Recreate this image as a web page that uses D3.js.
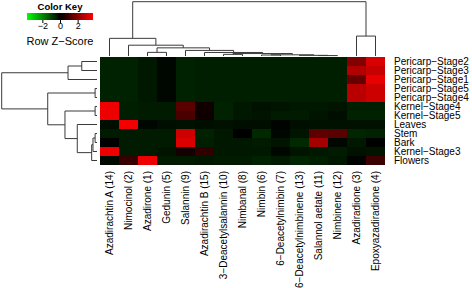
<!DOCTYPE html>
<html>
<head>
<meta charset="utf-8">
<script src="https://cdn.jsdelivr.net/npm/d3@7"></script>
<style>
  body { margin: 0; background: #fff; }
  text { font-family: "Liberation Sans", Arial, sans-serif; }
</style>
</head>
<body>
<script>
const rowLabels = ["Pericarp\u2212Stage2", "Pericarp\u2212Stage3", "Pericarp\u2212Stage1", "Pericarp\u2212Stage5",
  "Pericarp\u2212Stage4", "Kernel\u2212Stage4", "Kernel\u2212Stage5", "Leaves", "Stem", "Bark",
  "Kernel\u2212Stage3", "Flowers"];

const colLabels = ["Azadirachtin A (14)", "Nimocinol (2)", "Azadirone (1)", "Gedunin (5)", "Salannin (9)",
  "Azadirachtin B (15)", "3\u2212Deacetylsalannin (10)", "Nimbanal (8)", "Nimbin (6)", "6\u2212Deacetylnimbin (7)",
  "6\u2212Deacetylnimbinene (13)", "Salannol aetate (11)", "Nimbinene (12)", "Azadiradione (3)",
  "Epoxyazadiradione (4)"];

// row z-scores, one array per row (same order as rowLabels)
const zScores = [
  [-0.5, -0.5, -0.35, -0.1, -0.5, -0.45, -0.45, -0.45, -0.45, -0.45, -0.45, -0.45, -0.45, 1.9, 3.2],
  [-0.5, -0.5, -0.35, -0.1, -0.5, -0.45, -0.45, -0.45, -0.45, -0.45, -0.45, -0.45, -0.45, 2.6, 2.9],
  [-0.5, -0.5, -0.35, -0.1, -0.5, -0.45, -0.45, -0.45, -0.45, -0.45, -0.45, -0.45, -0.45, 1.5, 3.4],
  [-0.5, -0.5, -0.35, -0.1, -0.5, -0.45, -0.45, -0.45, -0.45, -0.45, -0.45, -0.45, -0.45, 2.7, 3.0],
  [-0.5, -0.5, -0.35, -0.1, -0.5, -0.45, -0.45, -0.45, -0.45, -0.45, -0.45, -0.45, -0.45, 2.7, 3.0],
  [3.5, -0.45, -0.4, -0.4, 1.3, 0.25, -0.5, -0.35, -0.25, -0.3, -0.35, -0.35, -0.3, -0.45, -0.45],
  [3.5, -0.45, -0.4, -0.4, 1.1, 0.2, -0.5, -0.35, -0.3, -0.4, -0.4, -0.3, -0.2, -0.5, -0.5],
  [-0.2, 3.6, -0.1, -0.2, -0.25, -0.2, -0.25, -0.2, -0.2, -0.05, -0.2, -0.25, -0.25, -0.25, -0.25],
  [-0.4, -0.4, -0.4, -0.4, 3.0, -0.5, -0.35, 0.0, -0.6, -0.1, -0.3, 1.4, 1.3, -0.55, -0.5],
  [0.0, -0.4, -0.4, -0.4, 3.2, -0.45, -0.35, -0.35, -0.4, -0.3, -0.6, 2.4, -0.1, -0.35, 0.0],
  [3.5, -0.4, -0.4, -0.3, 0.3, 0.7, -0.35, -0.35, -0.35, -0.1, -0.3, -0.35, -0.4, -0.25, -0.3],
  [-0.15, 0.8, 3.5, -0.4, -0.4, -0.35, -0.4, -0.4, -0.5, -0.4, -0.55, -0.45, -0.35, -0.05, 0.9]
];

// dendrograms: leaves are row / column indices, h = merge height
const rowTree = { h: 10, c: [
  { h: 3.04, c: [{ h: 1.6, c: [0, 1] }, 2] },
  { h: 5.17, c: [
    { h: 0.2, c: [3, 4] },
    { h: 3.36, c: [
      { h: 0.2, c: [5, 6] },
      { h: 2.07, c: [7, { h: 0.56, c: [{ h: 0.42, c: [{ h: 0.2, c: [8, 9] }, 10] }, 11] }] }
    ] }
  ] }
] };

const colTree = { h: 10, c: [
  { h: 3.25, c: [0, { h: 1.99, c: [1, { h: 1.5, c: [
    { h: 0.67, c: [2, 3] },
    { h: 1.03, c: [4, { h: 0.65, c: [5, { h: 0.45, c: [
      { h: 0.3, c: [6, 7] },
      { h: 0.22, c: [{ h: 0.18, c: [8, 9] }, { h: 0.12, c: [10, { h: 0.08, c: [11, 12] }] }] }
    ] }] }] }
  ] }] }] },
  { h: 3.67, c: [13, 14] }
] };

const keyTicks = [-2, 0, 2];
const zMax = 3.74;

const W = 472, H = 288;
const hm = { left: 100, top: 57, right: 385, bottom: 165 };

const svg = d3.select("body").append("svg")
  .attr("width", W).attr("height", H);

const x = d3.scaleBand().domain(d3.range(colLabels.length)).range([hm.left, hm.right]);
const y = d3.scaleBand().domain(d3.range(rowLabels.length)).range([hm.top, hm.bottom]);
const color = d3.scaleLinear().domain([-zMax, 0, zMax]).range(["#00ff00", "#000000", "#ff0000"]);

// heatmap cells
const cells = [];
zScores.forEach((row, i) => row.forEach((v, j) => cells.push({ i, j, v })));
svg.append("g").selectAll("rect")
  .data(cells)
  .enter().append("rect")
  .attr("x", d => x(d.j))
  .attr("y", d => y(d.i))
  .attr("width", x.bandwidth())
  .attr("height", y.bandwidth())
  .attr("fill", d => color(d.v))
  .attr("shape-rendering", "crispEdges");

// row labels
svg.append("g").selectAll("text")
  .data(rowLabels)
  .enter().append("text")
  .attr("x", hm.right + 9)
  .attr("y", (d, i) => y(i) + y.bandwidth() / 2)
  .attr("dy", "0.36em")
  .style("font-size", "10px")
  .text(d => d);

// column labels
svg.append("g").selectAll("text")
  .data(colLabels)
  .enter().append("text")
  .attr("transform", (d, i) => `translate(${x(i) + x.bandwidth() / 2 + 3.6}, ${hm.bottom + 6}) rotate(-90)`)
  .attr("text-anchor", "end")
  .style("font-size", "10px")
  .text(d => d);

// dendrogram layout: leaf pos from band scale, node pos = midpoint of first/last child
function layout(node, pos) {
  if (typeof node === "number") return { p: pos(node), h: 0 };
  const kids = node.c.map(k => layout(k, pos));
  return { p: (kids[0].p + kids[kids.length - 1].p) / 2, h: node.h, kids };
}

function segments(n, out) {
  if (!n.kids) return out;
  n.kids.forEach(k => {
    out.push([k.p, n.h, k.p, k.h]);
    segments(k, out);
  });
  out.push([n.kids[0].p, n.h, n.kids[n.kids.length - 1].p, n.h]);
  return out;
}

const rowH = d3.scaleLinear().domain([0, 10]).range([hm.left - 3, 1.7]);
const colH = d3.scaleLinear().domain([0, 10]).range([hm.top - 1, 1.7]);

const rowSegs = segments(layout(rowTree, i => y(i) + y.bandwidth() / 2), []);
svg.append("g").selectAll("line")
  .data(rowSegs)
  .enter().append("line")
  .attr("x1", d => rowH(d[1])).attr("y1", d => d[0])
  .attr("x2", d => rowH(d[3])).attr("y2", d => d[2])
  .attr("stroke", "#3a3a3a").attr("stroke-width", 1);

const colSegs = segments(layout(colTree, i => x(i) + x.bandwidth() / 2), []);
svg.append("g").selectAll("line")
  .data(colSegs)
  .enter().append("line")
  .attr("x1", d => d[0]).attr("y1", d => colH(d[1]))
  .attr("x2", d => d[2]).attr("y2", d => colH(d[3]))
  .attr("stroke", "#3a3a3a").attr("stroke-width", 1);

// color key
const key = svg.append("g");
const kx = d3.scaleLinear().domain([-zMax, zMax]).range([27, 93]);
const grad = svg.append("defs").append("linearGradient").attr("id", "kg");
grad.selectAll("stop")
  .data([-zMax, 0, zMax])
  .enter().append("stop")
  .attr("offset", d => (d + zMax) / (2 * zMax))
  .attr("stop-color", d => color(d));

key.append("rect")
  .attr("x", kx(-zMax)).attr("y", 13)
  .attr("width", kx(zMax) - kx(-zMax)).attr("height", 7)
  .attr("fill", "url(#kg)");

key.append("g")
  .attr("transform", "translate(0,20)")
  .call(d3.axisBottom(kx).tickValues(keyTicks).tickSize(3).tickFormat(d3.format("d")))
  .call(g => g.select(".domain").remove())
  .call(g => g.selectAll("text").attr("dy", "0.3em").style("font-size", "9px")
    .style("font-family", "Liberation Sans, Arial, sans-serif"));

key.append("text")
  .attr("x", 60).attr("y", 10)
  .attr("text-anchor", "middle")
  .style("font-size", "9.5px").style("font-weight", "bold")
  .text("Color Key");

key.append("text")
  .attr("x", 60).attr("y", 44.5)
  .attr("text-anchor", "middle")
  .style("font-size", "11px")
  .text("Row Z\u2212Score");
</script>
</body>
</html>
